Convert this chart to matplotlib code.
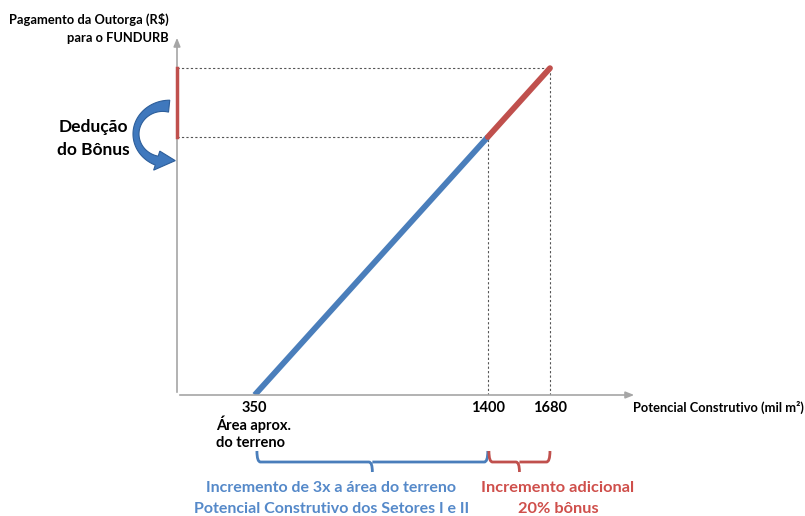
import numpy as np
import matplotlib.pyplot as plt
import matplotlib.transforms as mtransforms
from matplotlib.patches import Polygon, PathPatch
from matplotlib.path import Path

plt.rcParams["font.family"] = ["Lato", "DejaVu Sans"]
plt.rcParams["font.weight"] = "bold"

# --- data ---
potencial = [350, 1400, 1680]          # mil m2
pagamento = [0, 1050, 1330]            # relative payment (R$)
tick_vals = [350, 1400, 1680]
tick_labels = ["350", "1400", "1680"]

BLUE = "#4a7ebb"
RED = "#c0504d"
BLUE_TXT = "#5589c9"
RED_TXT = "#cf4f4b"
GRAY = "#a6a6a6"

W, H = 805, 516
fig = plt.figure(figsize=(W / 100, H / 100), dpi=100)


def fx(px):
    return px / W


def fy(py):
    return 1 - py / H


# axes box: origin at (177, 395) px, top at 35 px, right end at 637 px
ax = fig.add_axes([fx(177), fy(395), fx(637) - fx(177), fy(35) - fy(395)])
ax.set_xlim(0, 2072)
ax.set_ylim(0, 1465)
ax.axis("off")

# axis lines with arrows
for end in [(2072, 0), (0, 1465)]:
    ax.annotate("", xy=end, xytext=(0, 0),
                arrowprops=dict(arrowstyle="-|>,head_length=0.5,head_width=0.2",
                                color=GRAY, lw=1.2), annotation_clip=False)

# dotted guide lines
for xv, yv in zip(potencial[1:], pagamento[1:]):
    ax.plot([0, xv], [yv, yv], color="#555555", lw=0.8, ls=(0, (2, 2)))
    ax.plot([xv, xv], [0, yv], color="#555555", lw=0.8, ls=(0, (2, 2)))

# main line
ax.plot(potencial[:2], pagamento[:2], color=BLUE, lw=4.2, solid_capstyle="butt")
ax.plot(potencial[1:], pagamento[1:], color=RED, lw=4.2, solid_capstyle="round")

# bonus segment on y axis
ax.plot([0, 0], pagamento[1:], color=RED, lw=2.5, clip_on=False, zorder=5)

# tick labels
for v, lab in zip(tick_vals, tick_labels):
    ax.text(v, -52, lab, ha="center", va="center", fontsize=10.5, clip_on=False)

ax.text(2052, -52, "Potencial Construtivo (mil m²)", ha="left", va="center",
        fontsize=9.3, clip_on=False)

# text annotations (figure coords)
fig.text(fx(169), fy(19), "Pagamento da Outorga (R$)", ha="right", va="center",
         fontsize=9.3)
fig.text(fx(169), fy(38), "para o FUNDURB", ha="right", va="center", fontsize=9.3)
fig.text(fx(93), fy(127), "Dedução", ha="center", va="center", fontsize=12.5)
fig.text(fx(93), fy(150), "do Bônus", ha="center", va="center", fontsize=12.5)
fig.text(fx(216), fy(424), "Área aprox.", ha="left", va="center", fontsize=10.5)
fig.text(fx(216), fy(443), "do terreno", ha="left", va="center", fontsize=10.5)

# curved "C" arrow, built as a tapered arc with a head (pixel coords, y down)
cx, cy, rx, ry = 166, 134, 30, 28
deg = np.linspace(84, 252, 50)
th = np.radians(deg)
wd = 6 + 6 * ((deg - 180) / 96) ** 2


def pt(t, dr):
    return (cx + (rx + dr) * np.cos(t), cy - (ry + dr) * np.sin(t))


outer = [pt(t, w / 2) for t, w in zip(th, wd)]
inner = [pt(t, -w / 2) for t, w in zip(th, wd)]
tb = np.radians(252)
tt = np.radians(288)
head = [pt(tb, 10), pt(tt, 0), pt(tb, -10)]
pts = outer + head + inner[::-1]
poly = Polygon([(fx(x), fy(y)) for x, y in pts], closed=True,
               transform=fig.transFigure, facecolor="#3f78bd",
               edgecolor="#2d5e9a", lw=0.8)
fig.add_artist(poly)

# braces below the axis (x in data, y in figure)
trans = mtransforms.blended_transform_factory(ax.transData, fig.transFigure)


def brace(x0, x1, color):
    xc = (x0 + x1) / 2
    rr = 16
    ys = [fy(451), fy(462), fy(472)]
    verts = [(x0, ys[0]), (x0, ys[1]), (x0 + rr, ys[1]), (xc - rr, ys[1]),
             (xc, ys[1]), (xc, ys[2]), (xc, ys[1]), (xc + rr, ys[1]),
             (x1 - rr, ys[1]), (x1, ys[1]), (x1, ys[0])]
    codes = [Path.MOVETO, Path.CURVE3, Path.CURVE3, Path.LINETO,
             Path.CURVE3, Path.CURVE3, Path.MOVETO, Path.LINETO,
             Path.LINETO, Path.CURVE3, Path.CURVE3]
    p = PathPatch(Path(verts, codes), transform=trans, fill=False,
                  edgecolor=color, lw=2, clip_on=False)
    ax.add_patch(p)


brace(potencial[0] + 10, potencial[1], BLUE)
brace(potencial[1] + 5, potencial[2], RED)

blue_x = 694
red_x = 1716
ax.text(blue_x, fy(488), "Incremento de 3x a área do terreno", transform=trans,
        ha="center", va="center", fontsize=11.5, color=BLUE_TXT, clip_on=False)
ax.text(blue_x, fy(509), "Potencial Construtivo dos Setores I e II", transform=trans,
        ha="center", va="center", fontsize=11.5, color=BLUE_TXT, clip_on=False)
ax.text(red_x, fy(488), "Incremento adicional", transform=trans,
        ha="center", va="center", fontsize=11.8, color=RED_TXT, clip_on=False)
ax.text(red_x, fy(509), "20% bônus", transform=trans,
        ha="center", va="center", fontsize=11.8, color=RED_TXT, clip_on=False)

fig.savefig("out.png", dpi=100)
